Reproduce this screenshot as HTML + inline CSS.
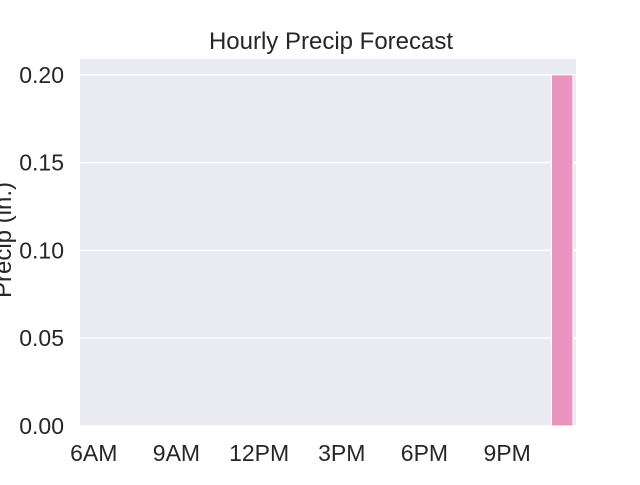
<!DOCTYPE html>
<html><head><meta charset="utf-8"><style>
body{margin:0;background:#fff;width:640px;height:480px;overflow:hidden}
text{font-family:"Liberation Sans",Arial,sans-serif;fill:#262626}
</style></head><body>
<svg width="640" height="480">
<text x="331" y="49" font-size="24" text-anchor="middle" fill="#000">Hourly Precip Forecast</text>
<rect x="80" y="59" width="496" height="367" fill="#eaeaf2"/>
<g id="grid"></g><g id="bars"></g><g id="yt"></g><g id="xt"></g>
<text transform="translate(11,240) rotate(-90)" font-size="24" text-anchor="middle" fill="#000">Precip (in.)</text>
</svg>
<script>
const hours=["6AM","7AM","8AM","9AM","10AM","11AM","12PM","1PM","2PM","3PM","4PM","5PM","6PM","7PM","8PM","9PM","10PM","11PM"];
const precip=[0,0,0,0,0,0,0,0,0,0,0,0,0,0,0,0,0,0.2];
const yTicks=[0,0.05,0.10,0.15,0.20];
const yTickLabels=["0.00","0.05","0.10","0.15","0.20"];
const xTickLabels=["6AM","9AM","12PM","3PM","6PM","9PM"];
const NS="http://www.w3.org/2000/svg";
const x0=80,w=496,yb=426,yt=59,ymax=0.209;
const step=w/hours.length;
const X=i=>x0+(i+0.5)*step;
const Y=v=>yb-(v/ymax)*(yb-yt);
function mk(t,a,p){const e=document.createElementNS(NS,t);for(const k in a)e.setAttribute(k,a[k]);document.getElementById(p).appendChild(e);return e;}
yTicks.forEach((v,i)=>{
const l=mk("line",{x1:x0,x2:x0+w,y1:Y(v),y2:Y(v),stroke:"#fff","stroke-width":1.5},"grid");


const t=mk("text",{x:x0-16,y:Y(v)+8,"font-size":23,"text-anchor":"end"},"yt");
t.textContent=yTickLabels[i];


});
precip.forEach((v,i)=>{
if(v<=0)return;
const bw=step*0.78;
const r=mk("rect",{x:X(i)-bw/2,y:Y(v),width:bw,height:yb-Y(v),fill:"#e995bf",stroke:"#fff","stroke-width":1},"bars");


});
xTickLabels.forEach(lb=>{
const i=hours.indexOf(lb);
const t=mk("text",{x:X(i),y:yb+35,"font-size":23,"text-anchor":"middle"},"xt");
t.textContent=lb;


});
</script>
</body></html>
